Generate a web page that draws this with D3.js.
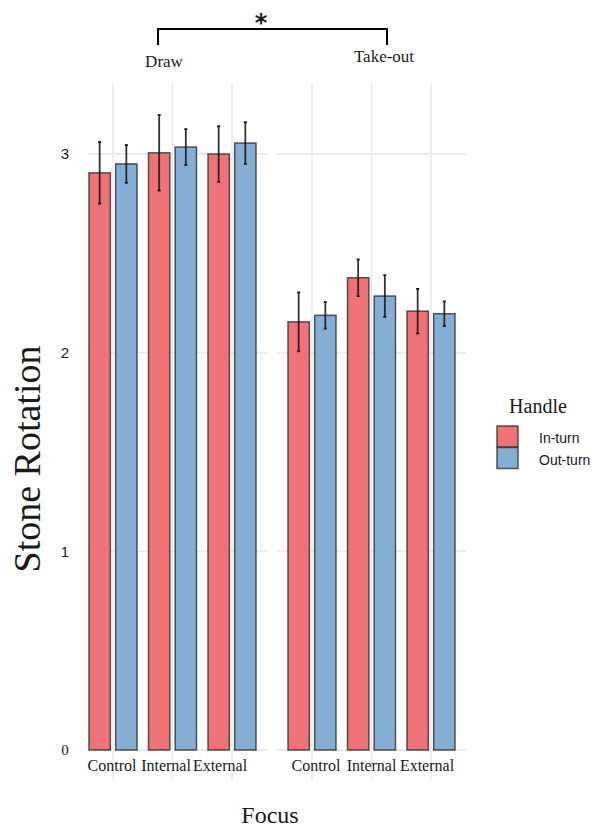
<!DOCTYPE html>
<html>
<head>
<meta charset="utf-8">
<script src="https://cdn.jsdelivr.net/npm/d3@7"></script>
<style>
  body { margin: 0; background: #fff; }
  svg text { fill: #1a1a1a; }
</style>
</head>
<body>
<div id="chart"></div>
<script>
// data
var shots = ["Draw", "Take-out"];
var focus = ["Control", "Internal", "External"];
var handles = ["In-turn", "Out-turn"];

var drawIn = [2.905, 3.006, 3.0];
var drawInSe = [0.155, 0.19, 0.14];
var drawOut = [2.95, 3.035, 3.055];
var drawOutSe = [0.095, 0.09, 0.105];

var takeIn = [2.155, 2.377, 2.209];
var takeInSe = [0.148, 0.092, 0.112];
var takeOut = [2.188, 2.285, 2.196];
var takeOutSe = [0.067, 0.105, 0.062];

var yTicks = [0, 1, 2, 3];
var colors = ["#ef7376", "#85aed4"];

function build_rows() {
    var rows = [];
    var means = { "Draw": [drawIn, drawOut], "Take-out": [takeIn, takeOut] };
    var ses = { "Draw": [drawInSe, drawOutSe], "Take-out": [takeInSe, takeOutSe] };
    shots.forEach(function (s) {
        focus.forEach(function (f, i) {
            handles.forEach(function (h, j) {
                rows.push({ shot: s, focus: f, handle: h,
                            mean: means[s][j][i], se: ses[s][j][i] });
            });
        });
    });
    return rows;
}
var rows = build_rows();

var width = 595, height = 830;
var serif = "'Liberation Serif', 'Times New Roman', serif";
var sans = "'Liberation Sans', Arial, sans-serif";

var svg = d3.select("#chart").append("svg")
    .attr("width", width).attr("height", height);

var y = d3.scaleLinear().domain([0, 3]).range([750, 154]);

// one panel per shot type
var panels = {
    "Draw": { x0: 88, x1: 267, pts: [113, 232], labs: [112, 220] },
    "Take-out": { x0: 277, x1: 466, pts: [312, 431], labs: [316, 427] }
};
var xSub = d3.scaleBand().domain(handles).range([-24, 24]).paddingInner(0.2);
var color = d3.scaleOrdinal().domain(handles).range(colors);

shots.forEach(function (s) {
    var p = panels[s];
    var x = d3.scalePoint().domain(focus).range(p.pts);
    var xl = d3.scalePoint().domain(focus).range(p.labs);
    var g = svg.append("g");

    // grid
    g.selectAll(".vg").data(focus).enter().append("line")
        .attr("x1", d => x(d)).attr("x2", d => x(d))
        .attr("y1", 83).attr("y2", 780)
        .attr("stroke", "#ebebeb").attr("stroke-width", 1.6);
    g.selectAll(".hg").data(yTicks).enter().append("line")
        .attr("x1", p.x0).attr("x2", p.x1)
        .attr("y1", d => y(d)).attr("y2", d => y(d))
        .attr("stroke", "#ebebeb").attr("stroke-width", 2);

    var data = rows.filter(r => r.shot === s);

    g.selectAll(".bar").data(data).enter().append("rect")
        .attr("x", d => x(d.focus) + xSub(d.handle))
        .attr("width", xSub.bandwidth())
        .attr("y", d => y(d.mean))
        .attr("height", d => y(0) - y(d.mean))
        .attr("fill", d => color(d.handle))
        .attr("stroke", "#2e2e2e").attr("stroke-opacity", 0.8)
        .attr("stroke-width", 1.5);

    var eb = g.selectAll(".eb").data(data).enter().append("g")
        .attr("transform", d => "translate(" + (x(d.focus) + xSub(d.handle) + xSub.bandwidth() / 2) + ",0)");
    eb.append("line")
        .attr("y1", d => y(d.mean + d.se)).attr("y2", d => y(d.mean - d.se))
        .attr("stroke", "#111").attr("stroke-opacity", 0.85).attr("stroke-width", 1.8);
    eb.append("line")
        .attr("x1", -1.5).attr("x2", 1.5)
        .attr("y1", d => y(d.mean + d.se)).attr("y2", d => y(d.mean + d.se))
        .attr("stroke", "#111").attr("stroke-width", 1.8);
    eb.append("line")
        .attr("x1", -1.5).attr("x2", 1.5)
        .attr("y1", d => y(d.mean - d.se)).attr("y2", d => y(d.mean - d.se))
        .attr("stroke", "#111").attr("stroke-width", 1.8);

    // category labels
    g.selectAll(".xl").data(focus).enter().append("text")
        .attr("x", d => xl(d)).attr("y", 771)
        .attr("text-anchor", "middle")
        .style("font-family", serif)
        .style("font-size", "16px")
        .text(d => d);
});

// y tick labels
svg.selectAll(".yt").data(yTicks).enter().append("text")
    .attr("x", 65).attr("y", d => y(d))
    .attr("dy", "0.36em")
    .attr("text-anchor", "middle")
    .style("font-family", d => d === 0 ? serif : sans)
    .style("font-size", "15px")
    .text(d => d);

// axis titles
svg.append("text")
    .attr("transform", "translate(40,459) rotate(-90)")
    .attr("text-anchor", "middle")
    .style("font-family", serif)
    .style("font-size", "38px")
    .text("Stone Rotation");
svg.append("text")
    .attr("x", 270).attr("y", 823)
    .attr("text-anchor", "middle")
    .style("font-family", serif)
    .style("font-size", "24px")
    .text("Focus");

// shot labels and significance bracket
svg.append("text").attr("x", 164).attr("y", 67)
    .attr("text-anchor", "middle").style("font-family", serif).style("font-size", "17px")
    .text(shots[0]);
svg.append("text").attr("x", 384).attr("y", 62)
    .attr("text-anchor", "middle").style("font-family", serif).style("font-size", "17px")
    .text(shots[1]);
svg.append("path")
    .attr("d", "M158,45 V29 H387 V45")
    .attr("fill", "none").attr("stroke", "#000").attr("stroke-width", 2);
svg.append("text").attr("x", 261).attr("y", 31)
    .attr("text-anchor", "middle")
    .style("font-family", "'DejaVu Sans', sans-serif")
    .style("font-size", "24px").style("font-weight", "bold")
    .text("*");

// legend
var lg = svg.append("g");
lg.append("text").attr("x", 538).attr("y", 413)
    .attr("text-anchor", "middle").style("font-family", serif).style("font-size", "20px")
    .text("Handle");
var items = lg.selectAll(".li").data(handles).enter().append("g")
    .attr("transform", (d, i) => "translate(497," + (426 + i * 21.5) + ")");
items.append("rect")
    .attr("width", 21).attr("height", 21)
    .attr("fill", d => color(d))
    .attr("stroke", "#2e2e2e").attr("stroke-opacity", 0.8).attr("stroke-width", 1.5);
items.append("text")
    .attr("x", 42).attr("y", 17)
    .style("font-family", sans)
    .style("font-size", "14px")
    .text(d => d);
</script>
</body>
</html>
